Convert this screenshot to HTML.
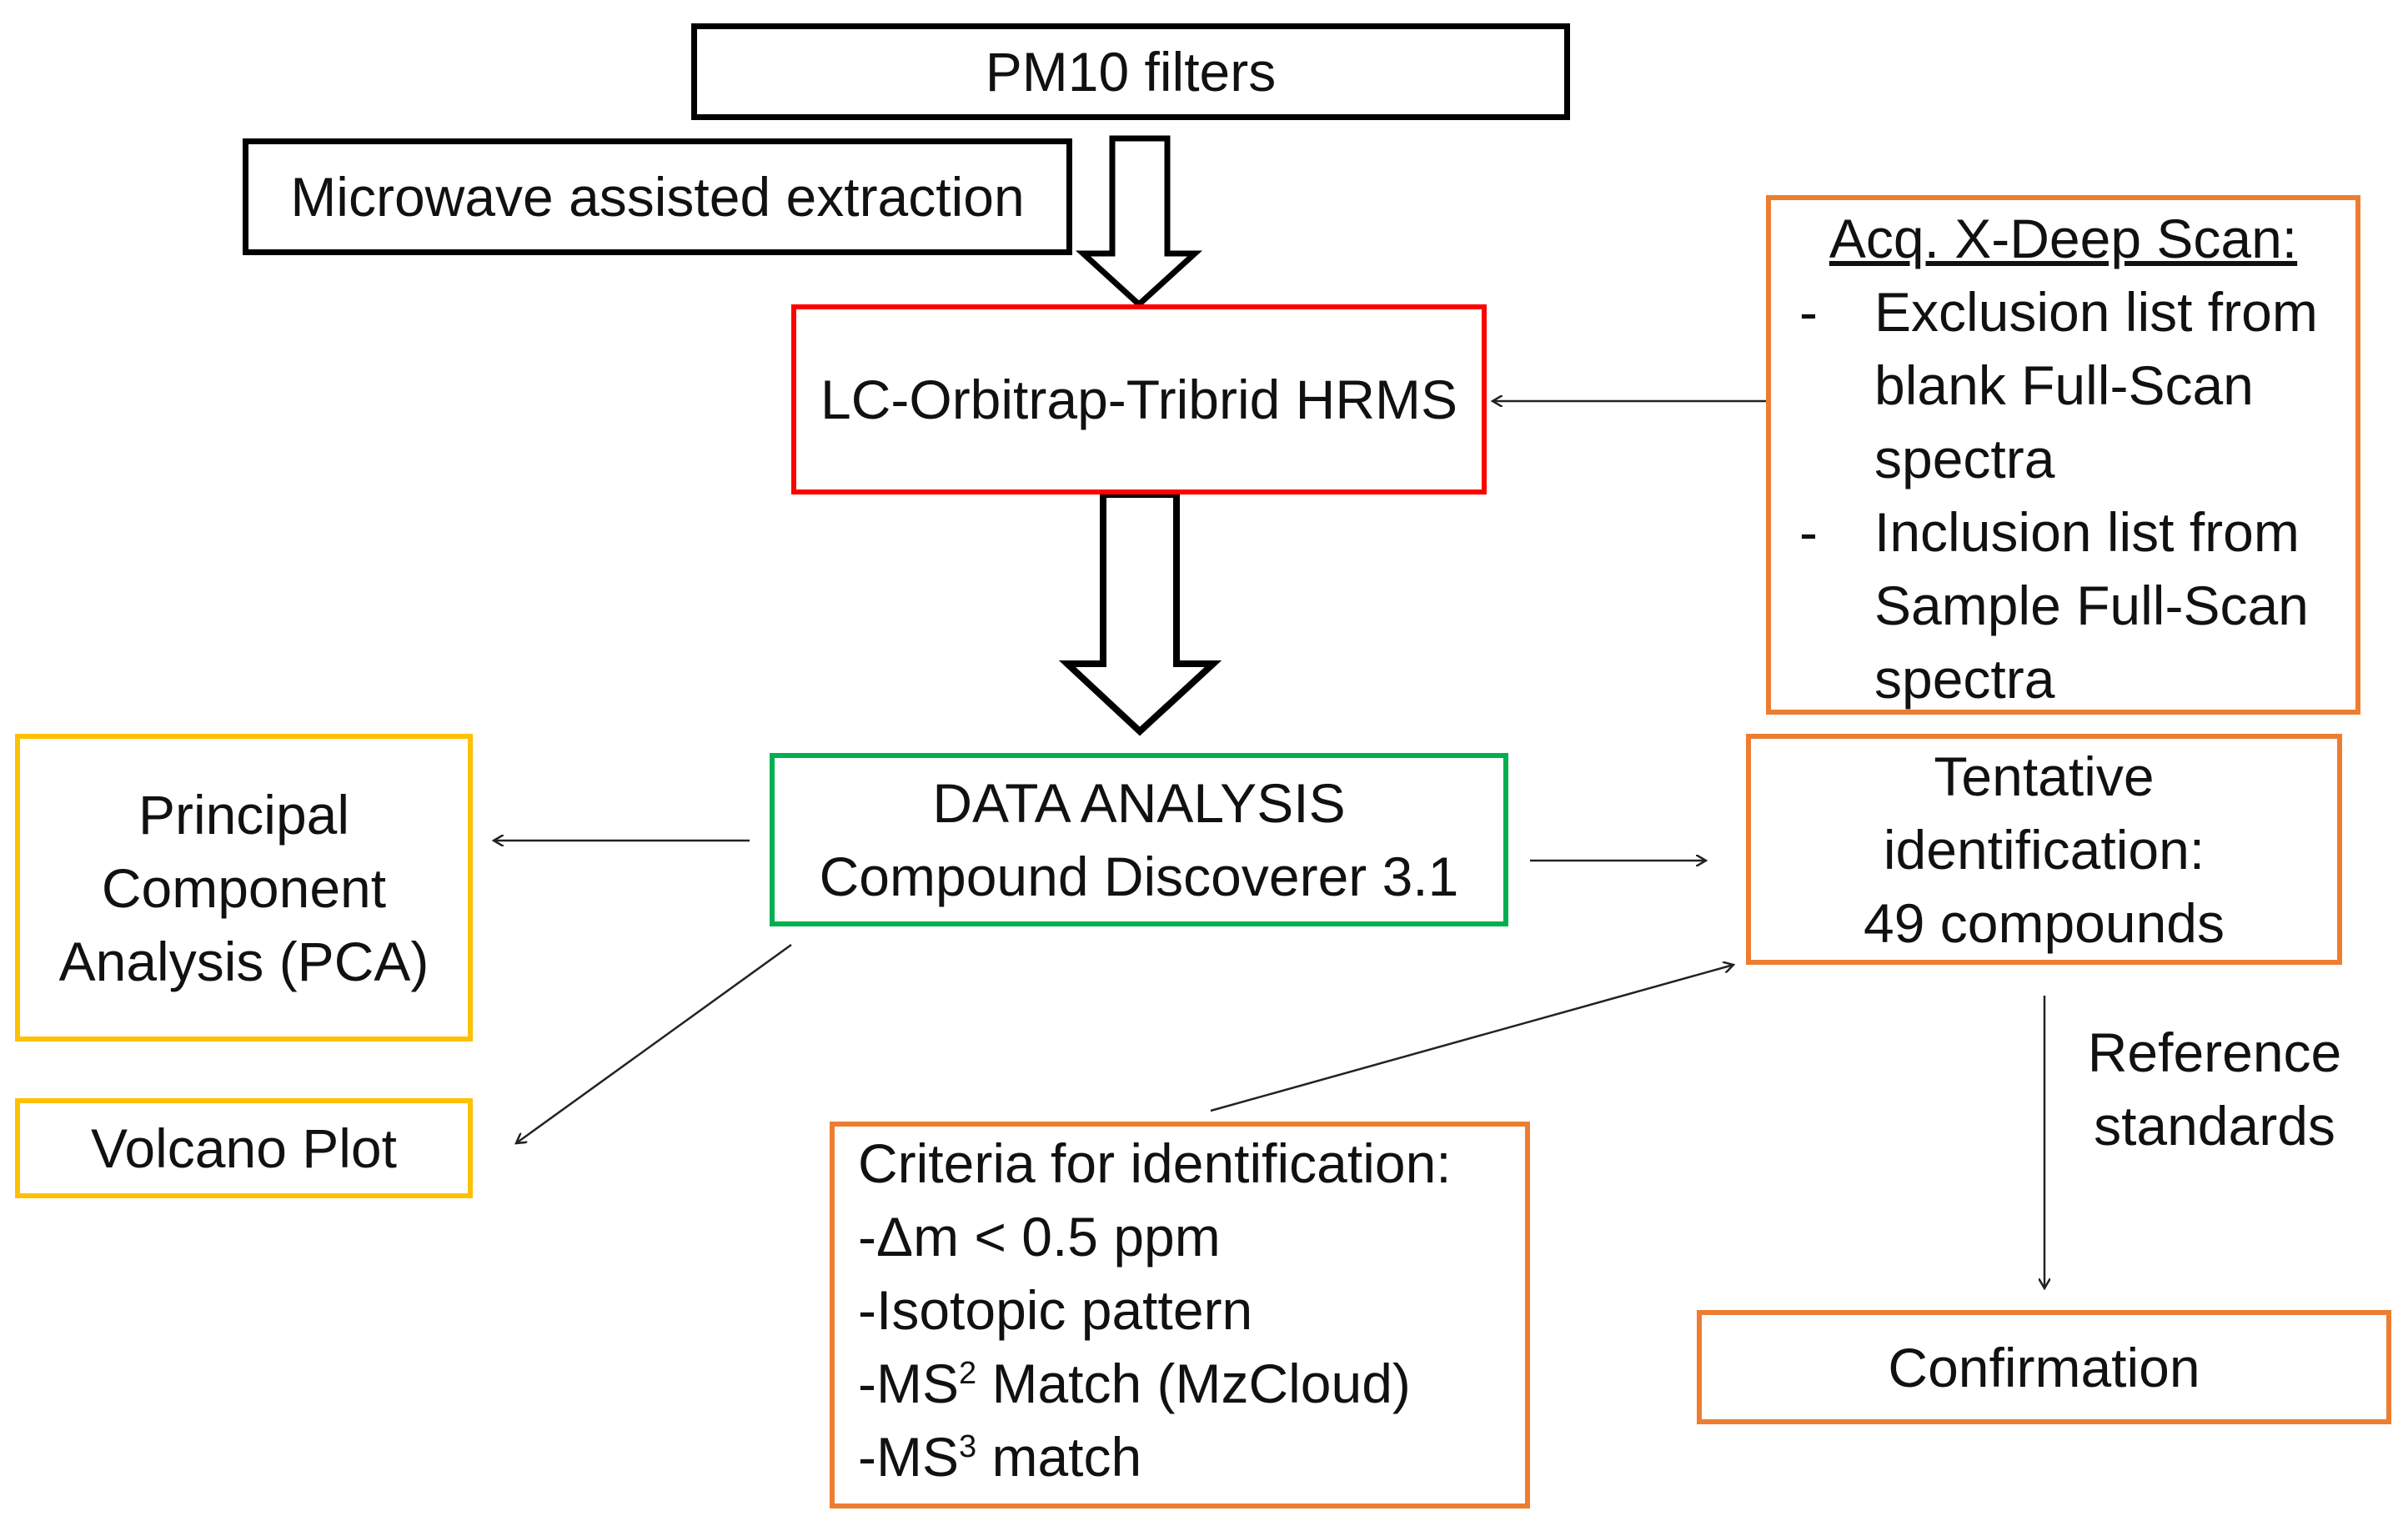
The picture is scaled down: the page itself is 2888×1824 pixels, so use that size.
<!DOCTYPE html>
<html><head><meta charset="utf-8"><style>
html,body{margin:0;padding:0;background:#fff;}
body{width:2888px;height:1824px;position:relative;overflow:hidden;font-family:"Liberation Sans",sans-serif;color:#111;}
.b{position:absolute;box-sizing:border-box;display:flex;align-items:center;justify-content:center;text-align:center;font-size:66px;line-height:88px;}
.k{border:7px solid #000;}
.r{border:6px solid #ff0000;}
.o{border:6px solid #ed7d31;}
.g{border:6px solid #00b050;}
.y{border:6px solid #ffc000;}
svg{position:absolute;left:0;top:0;}
.t{position:absolute;font-size:66px;line-height:88px;}
</style></head><body>
<svg width="2888" height="1824">
<defs><marker id="a" markerWidth="14" markerHeight="14" refX="12" refY="7" orient="auto" markerUnits="userSpaceOnUse"><path d="M0,0 L12,7 L0,14" fill="none" stroke="#222" stroke-width="2.5"/></marker></defs>
<polygon points="1334,166 1400,166 1400,304 1433,304 1366,365 1299,304 1334,304" fill="#fff" stroke="#000" stroke-width="7"/>
<polygon points="1323,593 1411,593 1411,796 1455,796 1367,877 1280,796 1323,796" fill="#fff" stroke="#000" stroke-width="8"/>
<g stroke="#222" stroke-width="2.5" fill="none" marker-end="url(#a)">
<line x1="2118" y1="481" x2="1790" y2="481"/>
<line x1="899" y1="1008" x2="592" y2="1008"/>
<line x1="949" y1="1133" x2="619" y2="1371"/>
<line x1="1835" y1="1032" x2="2046" y2="1032"/>
<line x1="1452" y1="1332" x2="2079" y2="1157"/>
<line x1="2452" y1="1194" x2="2452" y2="1545"/>
</g>
</svg>
<div class="b k" style="left:829px;top:28px;width:1054px;height:116px;">PM10 filters</div>
<div class="b k" style="left:291px;top:166px;width:995px;height:140px;">Microwave assisted extraction</div>
<div class="b r" style="left:949px;top:365px;width:834px;height:228px;">LC-Orbitrap-Tribrid HRMS</div>
<div class="b o" style="left:2118px;top:234px;width:713px;height:623px;display:block;text-align:left;padding:2px 0 0 0;">
<div style="text-align:center;text-decoration:underline;">Acq. X-Deep Scan:</div>
<div style="position:relative;padding-left:124px;"><span style="position:absolute;left:34px;">-</span>Exclusion list from blank Full-Scan spectra</div>
<div style="position:relative;padding-left:124px;"><span style="position:absolute;left:34px;">-</span>Inclusion list from Sample Full-Scan spectra</div>
</div>
<div class="b g" style="left:923px;top:903px;width:886px;height:208px;">DATA ANALYSIS<br>Compound Discoverer 3.1</div>
<div class="b y" style="left:18px;top:880px;width:549px;height:369px;">Principal<br>Component<br>Analysis (PCA)</div>
<div class="b y" style="left:18px;top:1317px;width:549px;height:120px;">Volcano Plot</div>
<div class="b o" style="left:2094px;top:880px;width:715px;height:277px;">Tentative<br>identification:<br>49 compounds</div>
<div class="b o" style="left:995px;top:1345px;width:840px;height:464px;display:block;text-align:left;padding:0 0 0 28px;">Criteria for identification:<br>-Δm &lt; 0.5 ppm<br>-Isotopic pattern<br>-MS<sup style="font-size:38px;line-height:0">2</sup> Match (MzCloud)<br>-MS<sup style="font-size:38px;line-height:0">3</sup> match</div>
<div class="t" style="left:2490px;top:1218px;width:332px;text-align:center;">Reference<br>standards</div>
<div class="b o" style="left:2035px;top:1571px;width:833px;height:137px;">Confirmation</div>
</body></html>
